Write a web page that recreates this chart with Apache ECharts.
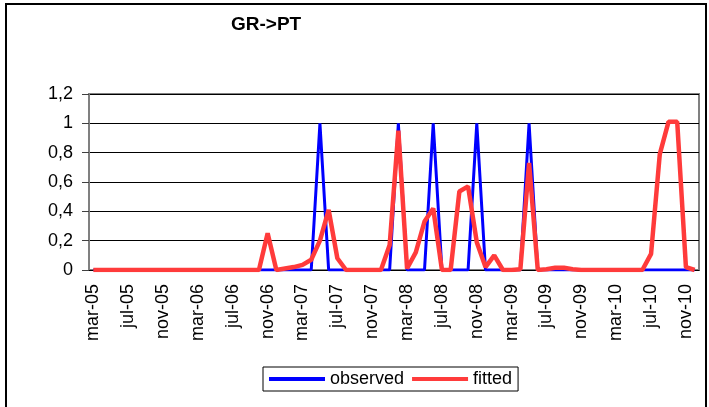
<!DOCTYPE html>
<html>
<head>
<meta charset="utf-8">
<script src="https://cdn.jsdelivr.net/npm/echarts@6/dist/echarts.min.js"></script>
<style>
  html, body { margin: 0; padding: 0; background: #fff; }
  #chart { width: 709px; height: 407px; }
</style>
</head>
<body>
<div id="chart"></div>
<script>
// monthly categories mar-05 .. dec-10
const monthNames = ['jan', 'feb', 'mar', 'apr', 'may', 'jun', 'jul', 'aug', 'sep', 'oct', 'nov', 'dec']
const months = []
for (let y = 5; y <= 10; y++) {
  for (let m = 0; m < 12; m++) {
    if (y === 5 && m < 2) continue
    months.push(monthNames[m] + '-' + String(y).padStart(2, '0'))
  }
}

const observed = [
  0, 0, 0, 0, 0, 0, 0, 0, 0, 0,
  0, 0, 0, 0, 0, 0, 0, 0, 0, 0,
  0, 0, 0, 0, 0, 0, 1, 0, 0, 0,
  0, 0, 0, 0, 0, 1, 0, 0, 0, 1,
  0, 0, 0, 0, 1, 0, 0, 0, 0, 0,
  1, 0, 0, 0, 0, 0, 0, 0, 0, 0,
  0, 0, 0, 0, 0, 0, 0, 0, 0, 0
]

const fitted = [
  0, 0, 0, 0, 0, 0, 0, 0, 0, 0,
  0, 0, 0, 0, 0, 0, 0, 0, 0, 0,
  0.25, 0, 0.01, 0.02, 0.035, 0.07, 0.2, 0.41, 0.08, 0,
  0, 0, 0, 0, 0.17, 0.95, 0.01, 0.12, 0.33, 0.42,
  0, 0, 0.535, 0.57, 0.19, 0.02, 0.1, 0, 0, 0.005,
  0.73, 0, 0.005, 0.015, 0.015, 0.005, 0, 0, 0, 0,
  0, 0, 0, 0, 0.11, 0.79, 1.01, 1.01, 0.02, 0
]

const FONT = "'Liberation Sans', Arial, sans-serif"

const chart = echarts.init(document.getElementById('chart'), null, { renderer: 'canvas' })

chart.setOption({
  animation: false,
  backgroundColor: '#fff',
  title: {
    text: 'GR->PT', left: 231, top: 15, padding: 0,
    textStyle: { fontFamily: FONT, fontSize: 19, fontWeight: 'bold', color: '#000' }
  },
  legend: {
    left: 263, top: 367, padding: [3, 6],
    borderColor: '#000', borderWidth: 1,
    itemWidth: 56, itemHeight: 4, itemGap: 8,
    textStyle: { fontFamily: FONT, fontSize: 18, color: '#000' },
    data: [
      { name: 'observed', icon: 'rect', itemStyle: { color: '#0000ff' } },
      { name: 'fitted', icon: 'rect', itemStyle: { color: '#ff3b3b' } }
    ]
  },
  grid: {
    left: 89, right: 10, top: 94, bottom: 137,
    show: true, borderColor: '#808080', borderWidth: 2
  },
  xAxis: {
    type: 'category', data: months, boundaryGap: true,
    axisLine: { lineStyle: { color: '#000', width: 1 } },
    axisTick: { interval: 3, length: 6, lineStyle: { color: '#000' } },
    axisLabel: {
      interval: 3, rotate: 90, margin: 14,
      fontFamily: FONT, fontSize: 18, color: '#000'
    },
    splitLine: { show: false }
  },
  yAxis: {
    type: 'value', min: 0, max: 1.2, interval: 0.2,
    axisLine: { show: true, lineStyle: { color: '#808080', width: 2 } },
    axisTick: { show: true, length: 7, lineStyle: { color: '#404040' } },
    axisLabel: {
      margin: 16, fontFamily: FONT, fontSize: 18, color: '#000',
      formatter: v => String(Math.round(v * 10) / 10).replace('.', ',')
    },
    splitLine: { lineStyle: { color: '#000', width: 1 } }
  },
  series: [
    {
      name: 'observed', type: 'line', data: observed,
      symbol: 'none', itemStyle: { color: '#0000ff' },
      lineStyle: { color: '#0000ff', width: 3 }
    },
    {
      name: 'fitted', type: 'line', data: fitted,
      symbol: 'none', itemStyle: { color: '#ff3b3b' },
      lineStyle: { color: '#ff3b3b', width: 4.5 }
    }
  ],
  graphic: [{
    type: 'rect', silent: true, z: 100,
    shape: { x: 6, y: 4, width: 700, height: 420 },
    style: { fill: 'none', stroke: '#000', lineWidth: 2 }
  }]
})
</script>
</body>
</html>
